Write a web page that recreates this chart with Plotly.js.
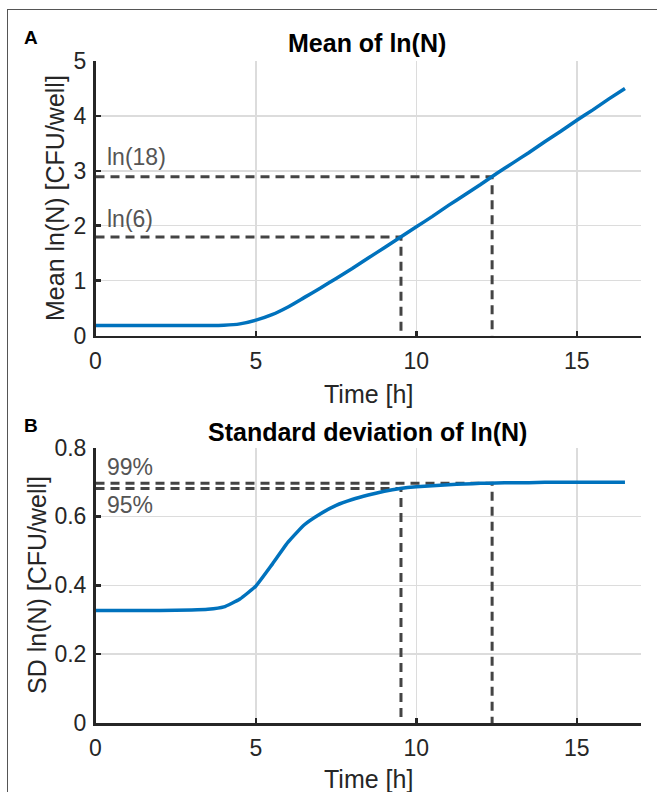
<!DOCTYPE html>
<html>
<head>
<meta charset="utf-8">
<script src="https://cdn.plot.ly/plotly-3.0.1.min.js"></script>
<style>
  html, body { margin: 0; padding: 0; background: #fff; overflow: hidden; }
  #frame { position: absolute; left: 7px; top: 9px; width: 720px; height: 820px; border: 1.5px solid #555; box-sizing: border-box; }
  #chart { position: absolute; left: 0; top: 0; width: 657px; height: 792px; }
</style>
</head>
<body>
<div id="frame"></div>
<div id="chart"></div>
<script>
// ---- data ----
const timeH = [0, 1, 2, 3, 3.5, 4, 4.5, 5, 5.5, 6, 6.5, 7, 7.5, 8, 8.5, 9, 9.5, 10, 10.5, 11, 11.5, 12, 12.5, 13, 13.5, 14, 14.5, 15, 15.5, 16, 16.5];
const meanLnN = [0.18, 0.18, 0.18, 0.18, 0.181, 0.187, 0.212, 0.28, 0.38, 0.52, 0.69, 0.86, 1.04, 1.22, 1.41, 1.60, 1.79, 1.98, 2.17, 2.37, 2.56, 2.75, 2.95, 3.14, 3.33, 3.53, 3.72, 3.92, 4.11, 4.31, 4.50];
const sdLnN = [0.327, 0.327, 0.327, 0.328, 0.330, 0.337, 0.360, 0.398, 0.460, 0.525, 0.575, 0.607, 0.632, 0.649, 0.662, 0.673, 0.681, 0.686, 0.689, 0.692, 0.694, 0.696, 0.697, 0.698, 0.698, 0.699, 0.699, 0.699, 0.699, 0.699, 0.699];
const thresholdTimes = [9.52, 12.36];
const meanLevels = [1.792, 2.890];          // ln(6), ln(18)
const meanLevelLabels = ['ln(6)', 'ln(18)'];
const sdLevels = [0.681, 0.696];            // 95%, 99%
const sdLevelLabels = ['95%', '99%'];
const xTicks = [0, 5, 10, 15];
const meanTicks = [0, 1, 2, 3, 4, 5];
const sdTicks = [0, 0.2, 0.4, 0.6, 0.8];
const sdTickText = ['0', '0.2', '0.4', '0.6', '0.8'];

// ---- layout helpers ----
const W = 657, H = 792;
const px = v => v / W;
const py = v => 1 - v / H;
const FONT = 'Liberation Sans, Arial, Helvetica, sans-serif';
const AX = '#262626';
const DASHC = '#444444';

const traces = [];
function dashTrace(t, lvl, xa, ya) {
  traces.push({
    x: [0, t, t], y: [lvl, lvl, 0], xaxis: xa, yaxis: ya,
    mode: 'lines', hoverinfo: 'skip', showlegend: false,
    line: { color: DASHC, width: 3, dash: '9px,6px' }
  });
}
for (let i = 0; i < thresholdTimes.length; i++) dashTrace(thresholdTimes[i], meanLevels[i], 'x', 'y');
for (let i = 0; i < thresholdTimes.length; i++) dashTrace(thresholdTimes[i], sdLevels[i], 'x2', 'y2');
traces.push({ x: timeH, y: meanLnN, xaxis: 'x', yaxis: 'y', mode: 'lines', line: { color: '#0072BD', width: 3.5, shape: 'spline', smoothing: 0.4 }, showlegend: false });
traces.push({ x: timeH, y: sdLnN, xaxis: 'x2', yaxis: 'y2', mode: 'lines', line: { color: '#0072BD', width: 3.5, shape: 'spline', smoothing: 0.4 }, showlegend: false });

const xDom = [px(95.5), px(641)];
const common = {
  showline: true, linecolor: AX, linewidth: 2.5,
  ticks: 'inside', ticklen: 5, tickwidth: 2.5, tickcolor: AX,
  showgrid: true, gridcolor: '#dcdcdc', gridwidth: 1.5,
  zeroline: false, mirror: false, fixedrange: true,
  tickfont: { family: FONT, size: 23, color: AX }
};
const xaxisBase = Object.assign({}, common, { range: [0, 17], tickmode: 'array', tickvals: xTicks, domain: xDom, ticklabelstandoff: 3 });

const titleFont = { family: FONT, size: 25, color: AX };
const annText = { family: FONT, size: 23, color: '#555555' };
const annotations = [
  { text: '<b>A</b>', x: px(31), y: py(37), font: { family: FONT, size: 19, color: '#000' } },
  { text: '<b>B</b>', x: px(31), y: py(425), font: { family: FONT, size: 19, color: '#000' } },
  { text: '<b>Mean of ln(N)</b>', x: px(367), y: py(43), font: { family: FONT, size: 25, color: '#000' } },
  { text: '<b>Standard deviation of ln(N)</b>', x: px(367), y: py(432), font: { family: FONT, size: 25, color: '#000' } },
  { text: 'Time [h]', x: px(368), y: py(394), font: titleFont },
  { text: 'Time [h]', x: px(368), y: py(779), font: titleFont },
  { text: 'Mean ln(N) [CFU/well]', x: px(55), y: py(198), textangle: -90, font: titleFont },
  { text: 'SD ln(N) [CFU/well]', x: px(37), y: py(585), textangle: -90, font: titleFont },
  { text: meanLevelLabels[1], x: 0.3, y: 3.25, xref: 'x', yref: 'y', xanchor: 'left', font: annText },
  { text: meanLevelLabels[0], x: 0.3, y: 2.13, xref: 'x', yref: 'y', xanchor: 'left', font: annText },
  { text: sdLevelLabels[1], x: 0.3, y: 0.742, xref: 'x2', yref: 'y2', xanchor: 'left', font: annText },
  { text: sdLevelLabels[0], x: 0.3, y: 0.634, xref: 'x2', yref: 'y2', xanchor: 'left', font: annText }
].map(a => Object.assign({ xref: 'paper', yref: 'paper', showarrow: false, xanchor: 'center', yanchor: 'middle' }, a));

const layout = {
  width: W, height: H,
  margin: { l: 0, r: 0, t: 0, b: 0 },
  paper_bgcolor: 'rgba(0,0,0,0)', plot_bgcolor: 'rgba(0,0,0,0)',
  showlegend: false,
  xaxis: Object.assign({}, xaxisBase, { anchor: 'y' }),
  yaxis: Object.assign({}, common, { range: [0, 5], tickmode: 'array', tickvals: meanTicks, domain: [py(335.5), py(61)], anchor: 'x', ticklabelstandoff: 2 }),
  xaxis2: Object.assign({}, xaxisBase, { anchor: 'y2' }),
  yaxis2: Object.assign({}, common, { range: [0, 0.8], tickmode: 'array', tickvals: sdTicks, ticktext: sdTickText, domain: [py(723), py(447.5)], anchor: 'x2', ticklabelstandoff: 2 }),
  annotations: annotations
};

Plotly.newPlot('chart', traces, layout, { staticPlot: true, displayModeBar: false });
</script>
</body>
</html>
